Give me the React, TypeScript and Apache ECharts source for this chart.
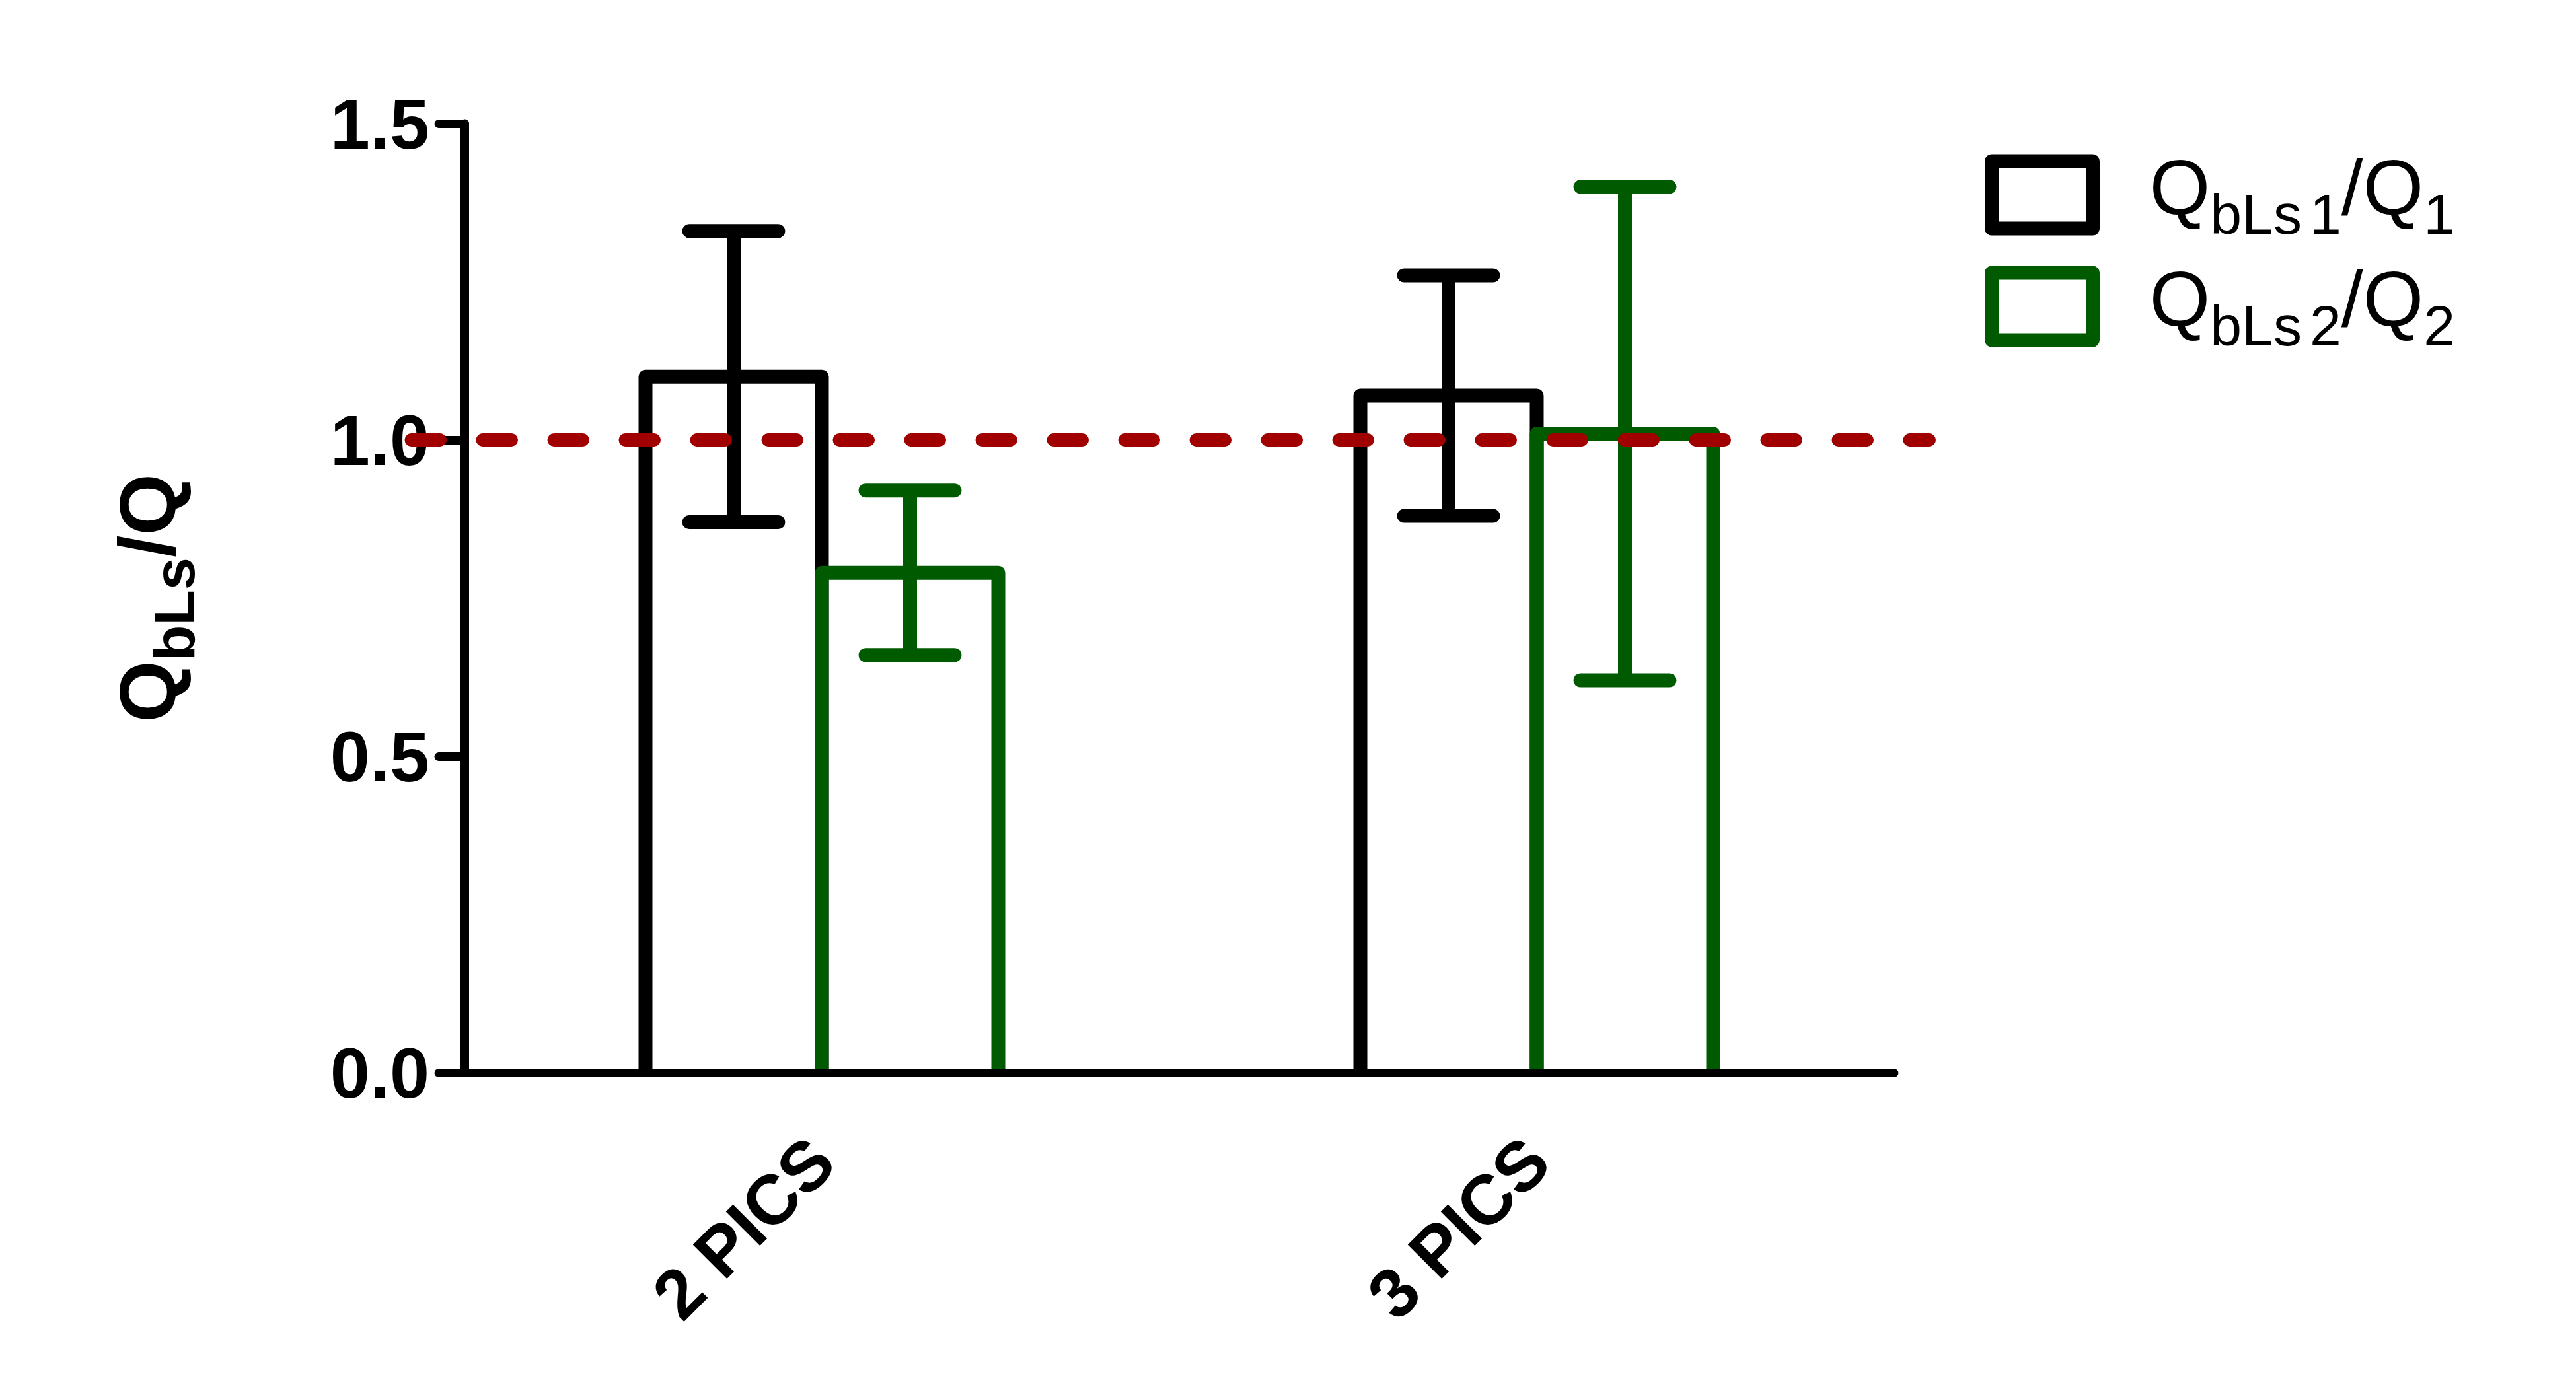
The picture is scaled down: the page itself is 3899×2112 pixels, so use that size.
import React, { useEffect, useRef } from "react";
import * as echarts from "echarts";

// ---- data ----
const categories = ["2 PICS", "3 PICS"];
const seriesNames = ["QbLs1/Q1", "QbLs2/Q2"];
const ratio1Mean = [1.1, 1.07];
const ratio1Err = [0.23, 0.19];
const ratio2Mean = [0.79, 1.01];
const ratio2Err = [0.13, 0.39];
const referenceLevel = [1.0];
const yMin = 0;
const yMax = 1.5;
const yStep = 0.5;

// ---- styles ----
const BLACK = "#000000";
const GREEN = "#005a00";
const RED = "#a00000";
const FONT = "'Liberation Sans', Arial, Helvetica, sans-serif";
const STROKE = 21;
const BAR_FRACTION = 267 / 1082;
const CAP_FRACTION = 67.5 / 1082;

export default function App() {
  const ref = useRef<HTMLDivElement>(null);

  useEffect(() => {
    const chart = echarts.init(ref.current as HTMLDivElement, null, { renderer: "svg" });

    const makeBarRender = (color: string, side: number) => (params: any, api: any) => {
      const idx = api.value(0);
      const v = api.value(1);
      const base = api.coord([idx, 0]);
      const top = api.coord([idx, v]);
      const w = api.size([1, 0])[0] * BAR_FRACTION;
      const cx = base[0] + (side * w) / 2;
      const x0 = cx - w / 2;
      const x1 = cx + w / 2;
      return {
        type: "polyline",
        shape: { points: [[x0, base[1]], [x0, top[1]], [x1, top[1]], [x1, base[1]]] },
        style: { fill: "none", stroke: color, lineWidth: STROKE, lineJoin: "round", lineCap: "butt" },
      };
    };

    const makeErrRender = (color: string, side: number) => (params: any, api: any) => {
      const idx = api.value(0);
      const m = api.value(1);
      const e = api.value(2);
      const band = api.size([1, 0])[0];
      const w = band * BAR_FRACTION;
      const cx = api.coord([idx, 0])[0] + (side * w) / 2;
      const yHi = api.coord([idx, m + e])[1];
      const yLo = api.coord([idx, m - e])[1];
      const capHalf = band * CAP_FRACTION;
      const st = { stroke: color, lineWidth: STROKE, lineCap: "round" };
      return {
        type: "group",
        children: [
          { type: "line", shape: { x1: cx, y1: yHi, x2: cx, y2: yLo }, style: { ...st, lineCap: "butt" } },
          { type: "line", shape: { x1: cx - capHalf, y1: yHi, x2: cx + capHalf, y2: yHi }, style: st },
          { type: "line", shape: { x1: cx - capHalf, y1: yLo, x2: cx + capHalf, y2: yLo }, style: st },
        ],
      };
    };

    const refRender = (params: any, api: any) => {
      const y = api.coord([0, api.value(1)])[1];
      const cs = params.coordSys;
      return {
        type: "line",
        shape: { x1: cs.x - 80.5, y1: y, x2: cs.x + cs.width + 53, y2: y },
        style: { stroke: RED, lineWidth: 20, lineDash: [43.5, 64.5], lineCap: "round" },
      };
    };

    const legendRich = {
      q0: { fontFamily: FONT, fontSize: 118, lineHeight: 118, color: BLACK, padding: [0, 0, 23, 81] },
      q: { fontFamily: FONT, fontSize: 118, lineHeight: 118, color: BLACK, padding: [0, 0, 23, 0] },
      sub: { fontFamily: FONT, fontSize: 86, lineHeight: 83, color: BLACK, padding: [58, 0, 0, 0] },
      subn: { fontFamily: FONT, fontSize: 86, lineHeight: 83, color: BLACK, padding: [58, 0, 0, 12] },
    };

    const option: any = {
      animation: false,
      backgroundColor: "#ffffff",
      grid: { left: 703, right: 1032, top: 187, bottom: 488, containLabel: false },
      legend: {
        orient: "vertical",
        left: 3004,
        top: 223,
        padding: 0,
        itemWidth: 153,
        itemHeight: 102,
        itemGap: 25,
        selectedMode: false,
        data: [
          { name: seriesNames[0], icon: "rect", itemStyle: { color: "#ffffff", borderColor: BLACK, borderWidth: STROKE, borderJoin: "round" } },
          { name: seriesNames[1], icon: "rect", itemStyle: { color: "#ffffff", borderColor: GREEN, borderWidth: STROKE, borderJoin: "round" } },
        ],
        formatter: (name: string) => {
          const k = seriesNames.indexOf(name) + 1;
          return `{q0|Q}{sub|bLs}{subn|${k}}{q|/Q}{sub|${k}}`;
        },
        textStyle: { fontFamily: FONT, color: BLACK, rich: legendRich },
      },
      xAxis: {
        type: "category",
        data: categories,
        boundaryGap: true,
        z: 5,
        axisLine: { lineStyle: { color: BLACK, width: 13 } },
        axisTick: { alignWithLabel: true, length: 40, lineStyle: { color: BLACK, width: 13, cap: "round" } },
        axisLabel: { rotate: 45, margin: 116, fontFamily: FONT, fontWeight: "bold", fontSize: 106, color: BLACK },
        splitLine: { show: false },
      },
      yAxis: {
        type: "value",
        min: yMin,
        max: yMax,
        interval: yStep,
        z: 5,
        name: "{q|Q}{sub|bLs}{q|/Q}",
        nameLocation: "middle",
        nameRotate: 90,
        nameGap: 410,
        nameTextStyle: {
          fontFamily: FONT,
          color: BLACK,
          rich: {
            q: { fontFamily: FONT, fontWeight: "bold", fontSize: 120, lineHeight: 118, color: BLACK, padding: [0, 0, 23, 0] },
            sub: { fontFamily: FONT, fontWeight: "bold", fontSize: 88, lineHeight: 83, color: BLACK, padding: [58, 0, 0, 0] },
          },
        },
        axisLine: { show: true, lineStyle: { color: BLACK, width: 13, cap: "round" } },
        axisTick: { show: true, length: 39, lineStyle: { color: BLACK, width: 13, cap: "round" } },
        axisLabel: {
          margin: 53,
          fontFamily: FONT,
          fontWeight: "bold",
          fontSize: 108,
          color: BLACK,
          formatter: (v: number) => v.toFixed(1),
        },
        splitLine: { show: false },
      },
      series: [
        {
          name: seriesNames[0],
          type: "custom",
          silent: true,
          z: 2,
          itemStyle: { color: BLACK },
          renderItem: makeBarRender(BLACK, -1),
          data: categories.map((c, i) => [i, ratio1Mean[i]]),
        },
        {
          name: seriesNames[1],
          type: "custom",
          silent: true,
          z: 2,
          itemStyle: { color: GREEN },
          renderItem: makeBarRender(GREEN, 1),
          data: categories.map((c, i) => [i, ratio2Mean[i]]),
        },
        {
          name: "err1",
          type: "custom",
          silent: true,
          z: 3,
          renderItem: makeErrRender(BLACK, -1),
          data: categories.map((c, i) => [i, ratio1Mean[i], ratio1Err[i]]),
        },
        {
          name: "err2",
          type: "custom",
          silent: true,
          z: 3,
          renderItem: makeErrRender(GREEN, 1),
          data: categories.map((c, i) => [i, ratio2Mean[i], ratio2Err[i]]),
        },
        {
          name: "reference",
          type: "custom",
          silent: true,
          z: 10,
          renderItem: refRender,
          data: referenceLevel.map((v) => [0, v]),
        },
      ],
    };

    chart.setOption(option);
    return () => chart.dispose();
  }, []);

  return (
    <div
      ref={ref}
      style={{ position: "fixed", left: 0, top: 0, width: 3899, height: 2112, background: "#ffffff" }}
    />
  );
}
